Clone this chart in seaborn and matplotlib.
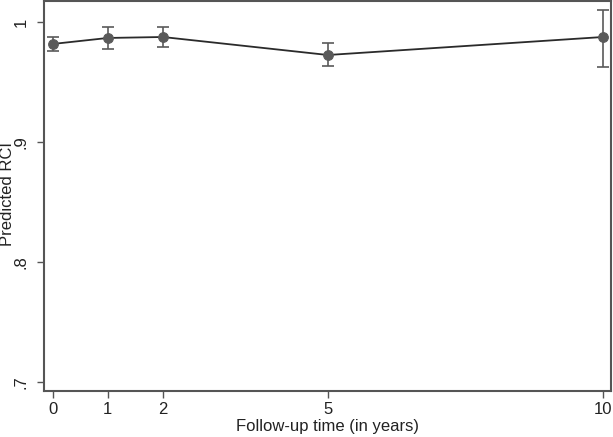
import matplotlib
matplotlib.use("Agg")
import matplotlib.pyplot as plt
import seaborn as sns
import pandas as pd

# Predicted RCI by follow-up time, with 95% CI
YEARS = [0, 1, 2, 5, 10]
RCI = [0.9817, 0.9867, 0.9875, 0.9725, 0.9875]
CI_LOW = [0.9760, 0.9775, 0.9790, 0.9630, 0.9625]
CI_HIGH = [0.9875, 0.9958, 0.9958, 0.9825, 1.0100]
Y_TICKS = [0.7, 0.8, 0.9, 1.0]
Y_TICK_LABELS = [".7", ".8", ".9", "1"]

df = pd.DataFrame({"year": YEARS, "rci": RCI, "lo": CI_LOW, "hi": CI_HIGH})

sns.set_theme(style="white")
plt.rcParams["font.family"] = ["Liberation Sans", "DejaVu Sans"]

fig = plt.figure(figsize=(6.13, 4.37), dpi=100)
ax = fig.add_axes([44 / 613, 46 / 437, 567 / 613, 390 / 437])

sns.lineplot(data=df, x="year", y="rci", ax=ax, color="#2b2b2b", linewidth=1.3,
             marker="o", markersize=7, markerfacecolor="#5a5a5a",
             markeredgecolor="#5a5a5a", zorder=3)
ax.errorbar(df["year"], df["rci"],
            yerr=[df["rci"] - df["lo"], df["hi"] - df["rci"]],
            fmt="none", ecolor="#5a5a5a", elinewidth=1.2, capsize=4, capthick=1.2,
            zorder=2)

ax.set_xlim(-0.16, 10.145)
ax.set_ylim(0.6925, 1.0175)
ax.set_xticks(YEARS)
ax.set_xticklabels([str(y) for y in YEARS], fontsize=12, color="#222222")
ax.set_yticks(Y_TICKS)
ax.set_yticklabels(Y_TICK_LABELS, fontsize=12, color="#222222", rotation=90, va="center")
ax.tick_params(axis="both", direction="out", length=5, width=1, color="#555555",
               bottom=True, left=True, pad=3)
ax.tick_params(axis="y", pad=6)
ax.set_xlabel("Follow-up time (in years)", fontsize=12, color="#222222", labelpad=1)
ax.set_ylabel("Predicted RCI", fontsize=12, color="#222222")
ax.yaxis.set_label_coords(-0.052, 0.505)

for s in ax.spines.values():
    s.set_color("#555555")
    s.set_linewidth(1.5)

fig.savefig("out.png", dpi=100)
